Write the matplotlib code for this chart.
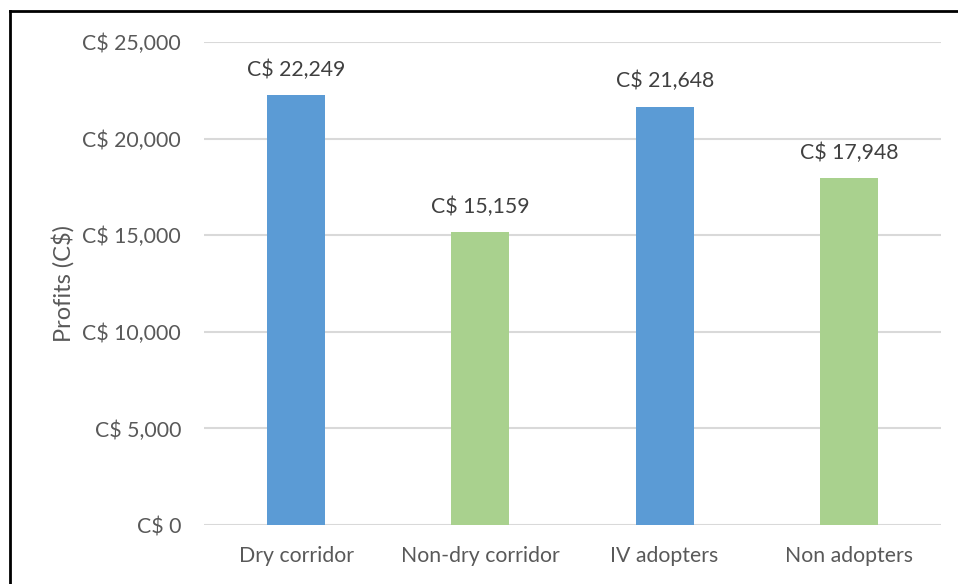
import matplotlib.pyplot as plt
from matplotlib.lines import Line2D
from matplotlib.ticker import FuncFormatter

categories = ["Dry corridor", "Non-dry corridor", "IV adopters", "Non adopters"]
profits = [22249, 15159, 21648, 17948]
colors = ["#5B9BD5", "#A9D18E", "#5B9BD5", "#A9D18E"]
y_ticks = [0, 5000, 10000, 15000, 20000, 25000]

plt.rcParams['font.family'] = ['Lato', 'DejaVu Sans']

fig = plt.figure(figsize=(9.58, 5.84), dpi=100)
ax = fig.add_axes([204 / 958, 1 - 525 / 584, (941 - 204) / 958, (525 - 42) / 584])

x = range(len(categories))
bars = ax.bar(x, profits, width=0.315, color=colors, zorder=3)

def money(v):
    return f"C$ {v:,.0f}"

for b, v in zip(bars, profits):
    ax.annotate(money(v), (b.get_x() + b.get_width() / 2, v),
                xytext=(0, 11), textcoords="offset points",
                ha="center", va="bottom", fontsize=15.3, color="#404040")

ax.set_xlim(-0.5, len(categories) - 0.5)
ax.set_ylim(0, 25000)
ax.set_yticks(y_ticks)
ax.yaxis.set_major_formatter(FuncFormatter(lambda v, p: money(v)))
ax.set_xticks(list(x))
ax.set_xticklabels(categories)
ax.grid(axis="y", color="#D9D9D9", linewidth=1.5, zorder=0)
ax.tick_params(axis="both", length=0, labelsize=15.3, labelcolor="#595959")
ax.tick_params(axis="y", pad=16.5)
ax.tick_params(axis="x", pad=15)
for s in ax.spines.values():
    s.set_visible(False)
ax.set_ylabel("Profits (C$)", fontsize=17, color="#595959")
ax.yaxis.set_label_coords(-0.175, 0.5)

# frame edges along the top and left of the figure
fig.add_artist(Line2D([10 / 958, 10 / 958], [0, 1 - 11 / 584], color="black", linewidth=2))
fig.add_artist(Line2D([10 / 958, 1], [1 - 11 / 584, 1 - 11 / 584], color="black", linewidth=2))

fig.savefig("out.png", dpi=100, facecolor="white")
